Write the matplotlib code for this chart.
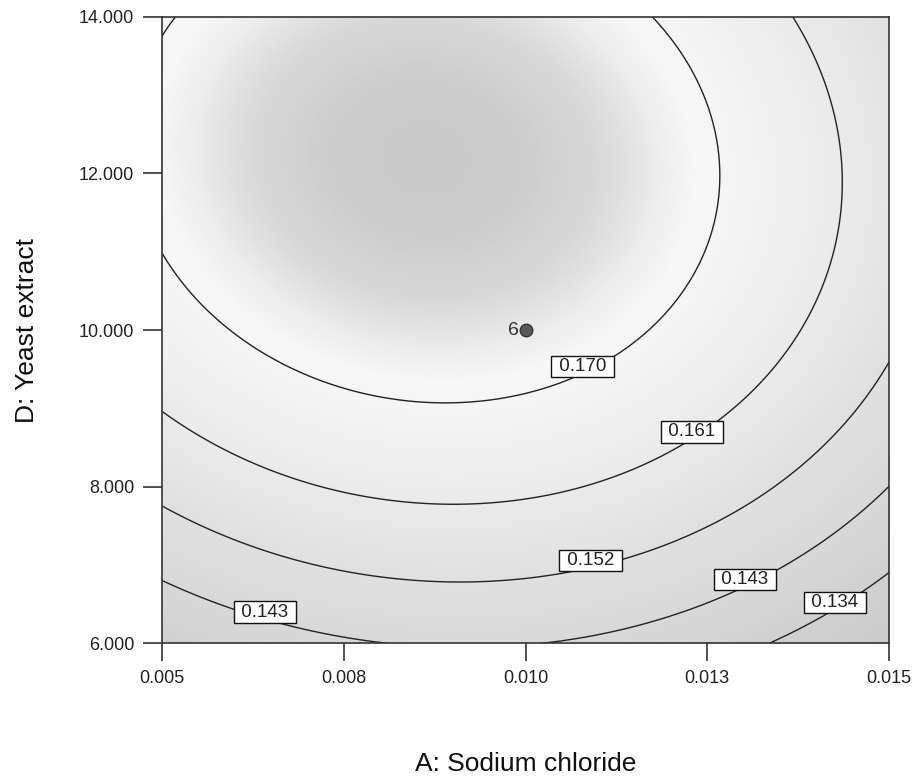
import numpy as np
import matplotlib
matplotlib.use("Agg")
import matplotlib.pyplot as plt
from matplotlib.colors import LinearSegmentedColormap
from matplotlib.transforms import offset_copy

plt.rcParams['font.family'] = ['Liberation Sans', 'DejaVu Sans']

# Quadratic response-surface model (coded factors a, d in [-1, 1])
# Y = b0 + bA*a + bD*d + bAD*a*d + bAA*a^2 + bDD*d^2
b0, bA, bD, bAD, bAA, bDD = 0.173784, -0.006502, 0.015683, -0.001921, -0.013715, -0.014867

a_range = (0.005, 0.015)      # A: Sodium chloride
d_range = (6.0, 14.0)         # D: Yeast extract
levels = [0.134, 0.143, 0.152, 0.161, 0.170]

x_ticks = [0.005, 0.0075, 0.010, 0.0125, 0.015]
x_ticklabels = ['0.005', '0.008', '0.010', '0.013', '0.015']
y_ticks = [6, 8, 10, 12, 14]
y_ticklabels = ['6.000', '8.000', '10.000', '12.000', '14.000']

design_point_A = [0.010]
design_point_D = [10.0]
design_point_label = ['6']

label_pos = [(0.010736, 9.540), (0.012221, 8.710), (0.010860, 7.102),
             (0.006458, 6.438), (0.012950, 6.846), (0.014175, 6.553)]

# grey shading (value -> grey level)
shade_vals = [0.1249, 0.134, 0.143, 0.152, 0.161, 0.168, 0.1715, 0.1735, 0.1760, 0.1790]
shade_grey = [0.80, 0.82, 0.85, 0.88, 0.92, 0.955, 0.97, 0.93, 0.85, 0.79]

fig = plt.figure(figsize=(9.15, 7.8), dpi=100)
fig.patch.set_facecolor('white')
ax = fig.add_axes([162/915, 136.7/780, 727/915, 626.6/780])

A = np.linspace(*a_range, 400)
D = np.linspace(*d_range, 400)
AA, DD = np.meshgrid(A, D)
ca = (AA - 0.010) / 0.005
cd = (DD - 10.0) / 4.0
Z = b0 + bA*ca + bD*cd + bAD*ca*cd + bAA*ca**2 + bDD*cd**2

vmin, vmax = shade_vals[0], shade_vals[-1]
pos = [(v - vmin)/(vmax - vmin) for v in shade_vals]
cmap = LinearSegmentedColormap.from_list('g', [(p, (g, g, g)) for p, g in zip(pos, shade_grey)])
ax.imshow(Z, origin='lower', extent=[*a_range, *d_range], aspect='auto',
          cmap=cmap, vmin=vmin, vmax=vmax, interpolation='bilinear', zorder=0)

cs = ax.contour(AA, DD, Z, levels=levels, colors='#222222', linewidths=1.0, zorder=2)
txts = ax.clabel(cs, fmt=lambda v: f' {v:.3f} ', manual=label_pos, inline=False, fontsize=13.5)
shift = offset_copy(ax.transData, fig=fig, x=0, y=7, units='dots')
for t in txts:
    t.set_rotation(0)
    t.set_transform(shift)
    t.set_bbox(dict(boxstyle='square,pad=0.12', facecolor='white', edgecolor='#111111', linewidth=1.0))
    t.set_zorder(5)

ax.plot(design_point_A, design_point_D, 'o', color='#5a5a5a', mec='#333333', ms=9, zorder=4)
for x, y, s in zip(design_point_A, design_point_D, design_point_label):
    ax.annotate(s, (x, y), xytext=(-4.5, 0), textcoords='offset points', ha='right', va='center',
                fontsize=14, color='#333333', zorder=4)

ax.set_xlim(*a_range)
ax.set_ylim(*d_range)
ax.set_xticks(x_ticks)
ax.set_xticklabels(x_ticklabels)
ax.set_yticks(y_ticks)
ax.set_yticklabels(y_ticklabels)
ax.tick_params(axis='x', length=13, width=1.1, pad=6, labelsize=13, colors='#222222')
ax.tick_params(axis='y', length=14, width=1.1, pad=6, labelsize=13, colors='#222222')
for sp in ax.spines.values():
    sp.set_linewidth(1.2)
    sp.set_color('#333333')

ax.set_xlabel('A: Sodium chloride', fontsize=19, color='#111111')
ax.set_ylabel('D: Yeast extract', fontsize=19, color='#111111')
ax.xaxis.set_label_coords(0.5, -0.1735)
ax.yaxis.set_label_coords(-0.169, 0.5)

fig.savefig('out.png', dpi=100)
